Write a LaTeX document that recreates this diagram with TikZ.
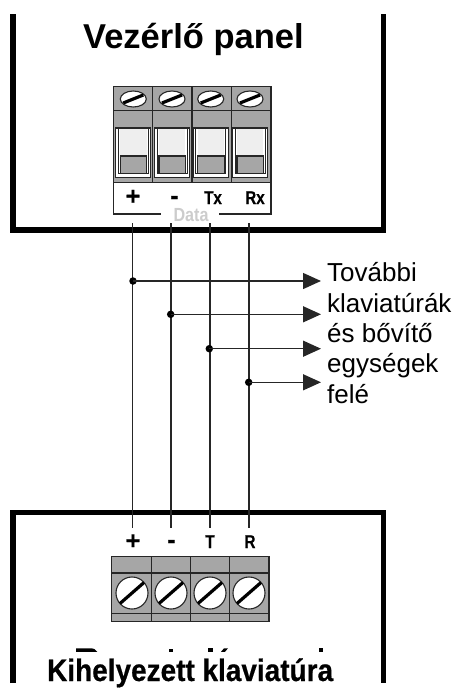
\documentclass[tikz,border=0pt]{standalone}
\usepackage{fontspec}
\setmainfont{Liberation Sans}
\newfontfamily\heavyfont[FakeBold=0.6,BoldFont={Liberation Sans Bold}]{Liberation Sans Bold}
\usetikzlibrary{arrows.meta}
\definecolor{termgrey}{HTML}{A6A6A6}
\definecolor{termdark}{HTML}{262626}
\definecolor{swlight}{HTML}{EEEEEE}
\definecolor{datagrey}{HTML}{CCCCCC}
\tikzset{
  panelline/.style={line width=5.4pt,miter limit=10},
  termline/.style={draw=termdark,line width=1.1pt},
  wire/.style={draw=termdark,line width=1.4pt},
  branch/.style={draw=termdark,line width=1.4pt,-{Triangle[length=18pt,width=16pt]}},
  junction/.style={circle,fill=black,inner sep=0pt,minimum size=7.5pt},
  slot/.style={line width=3.2pt},
  title/.style={font=\fontsize{34.5}{36}\selectfont\bfseries,anchor=base west,inner sep=0pt},
  termlabel/.style={font=\fontsize{18.5}{20}\heavyfont,anchor=base,inner sep=0pt,transform shape,xscale=.82},
  polarity/.style={font=\fontsize{25}{26}\heavyfont,anchor=base,inner sep=0pt},
  sidetext/.style={font=\fontsize{26}{30.3}\selectfont,align=left,anchor=north west,inner sep=0pt},
}
\begin{document}
\begin{tikzpicture}[x=1pt,y=-1pt]
\useasboundingbox (0,0) rectangle (454,688);
% panels
\draw[panelline] (12.8,14) -- (12.8,230) -- (383.4,230) -- (383.4,14);
\draw[panelline] (12.8,683) -- (12.8,512.5) -- (383.4,512.5) -- (383.4,683);
\node[title] (ctl) at (83,48) {Vezérlő panel};
% upper terminal block
\fill[termgrey] (113.3,86.7) rectangle (271,182.7);
\draw[termline] (113.3,182.7) -- (113.3,214) -- (161,214);
\draw[termline] (219.3,214) -- (271,214) -- (271,182.7);
\draw[termline] (113.3,86.7) rectangle (271,182.7);
\draw[termline] (113.3,110.7) -- (271,110.7);
\foreach \xa/\c in {113.3/133.3,152.7/172,192/210.7,231.7/250}{
  \draw[termline] (\xa,86.7) -- (\xa,182.7);
  \draw[termline,fill=white] (\c,99) ellipse (13pt and 8pt);
  \draw[slot] (\c-10,103) -- (\c+10,95);
  \draw[termline,fill=white] (\c-17.6,128) rectangle (\c+17.6,177.5);
  \draw[termdark,line width=.8pt] (\c-15,128) -- (\c-15,173.5) -- (\c+15,173.5) -- (\c+15,128);
  \fill[swlight] (\c-13,129) rectangle (\c+13.4,156);
  \draw[termline,fill=termgrey] (\c-13,156) rectangle (\c+13.4,173.3);
}
\node[polarity] (lp) at (133,204.5) {+};
\node[polarity] (lm) at (174.5,204) {-};
\node[termlabel] (ltx) at (213,204) {Tx};
\node[termlabel] (lrx) at (255,204) {Rx};
\node[font=\fontsize{19}{20}\selectfont\bfseries,text=datagrey,anchor=base,inner sep=0pt,transform shape,xscale=.85] (data) at (191,221) {Data};
% lower terminal block
\fill[termgrey] (111.7,556.7) rectangle (269,621.3);
\draw[termline] (111.7,556.7) rectangle (269,621.3);
\draw[termline] (111.7,573) -- (269,573);
\draw[termline] (111.7,613.3) -- (269,613.3);
\foreach \xa/\c in {151.7/132,190.3/171,229.7/210,269/249}{
  \draw[termline] (\xa,556.7) -- (\xa,621.3);
  \draw[termline,fill=white] (\c,593) circle (16pt);
  \draw[slot] (\c-12,603.5) -- (\c+12,582.5);
}
\node[polarity] (bp) at (133,549) {+};
\node[polarity] (bm) at (171.5,548) {-};
\node[termlabel] (bt) at (210,548) {T};
\node[termlabel] (br) at (250,548) {R};
% wires
\foreach \n/\x in {1/132.7,2/171,3/210,4/249}{
  \coordinate (w\n t) at (\x,223);
  \coordinate (w\n b) at (\x,527.5);
  \draw[wire] (w\n t) -- (w\n b);
}
\node[junction] (j1) at (133,281) {};
\node[junction] (j2) at (170.7,314.3) {};
\node[junction] (j3) at (209.3,348.7) {};
\node[junction] (j4) at (248.7,382.3) {};
\coordinate (a1) at (321,281);
\coordinate (a2) at (321,314.3);
\coordinate (a3) at (321,348.7);
\coordinate (a4) at (321,382.3);
\foreach \n in {1,2,3,4}{\draw[branch] (j\n.center) -- (a\n);}
\node[sidetext] (side) at (327,262.5) {További\\klaviatúrák\\és bővítő\\egységek\\felé};
% remains of the covered title
\fill (76,648.3) -- (90,648.3) .. controls (94,648.3) and (96,649.5) .. (97.3,651.8) -- (76,651.8) -- cycle;
\fill (168.5,649) rectangle (173,651.8);
\fill (208,648.3) rectangle (213,651.8);
\fill (224,648.3) -- (228,648.3) -- (225,651.8) -- (221,651.8) -- cycle;
\fill (318.5,648.3) rectangle (323,651.8);
\node[font=\fontsize{31}{32}\heavyfont,anchor=base west,inner sep=0pt,transform shape,xscale=.902] (rem) at (47,681) {Kihelyezett klaviatúra};
\end{tikzpicture}
\end{document}
